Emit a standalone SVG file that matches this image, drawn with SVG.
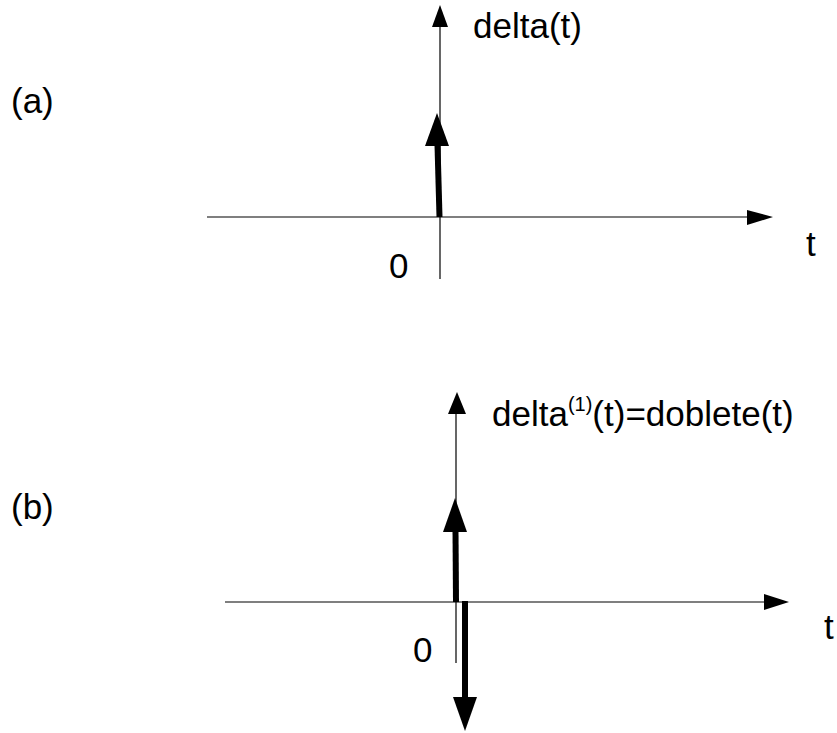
<svg xmlns="http://www.w3.org/2000/svg" width="837" height="733" viewBox="0 0 837 733">
<style>
text{font-family:"Liberation Sans",Arial,sans-serif;font-size:35px;fill:#000}
.thin{stroke:#000;stroke-width:1.2;fill:none}
.thick{stroke:#000;stroke-width:6;fill:none}
.head{fill:#000}
</style>
<rect width="837" height="733" fill="#fff"/>
<g id="connectors">
<g id="axes-a">
<line class="thin" x1="440" y1="24" x2="440" y2="279"/>
<polygon class="head" points="440,5 432,27 448,27"/>
<line class="thin" x1="207" y1="217" x2="750" y2="217"/>
<polygon class="head" points="773,217 747,210 747,225"/>
</g>
<g id="impulse-a">
<line class="thick" x1="439.5" y1="217" x2="437.5" y2="145"/>
<polygon class="head" points="437,113 425,146 449,146"/>
</g>
<g id="axes-b">
<line class="thin" x1="456" y1="410" x2="456" y2="663"/>
<polygon class="head" points="457,392 448,414 466,414"/>
<line class="thin" x1="225" y1="602" x2="767" y2="602"/>
<polygon class="head" points="789,602 764,594 764,610"/>
</g>
<g id="doublet-b">
<line class="thick" x1="456" y1="602" x2="455.5" y2="530"/>
<polygon class="head" points="455,498 443,532 467,532"/>
<line class="thick" x1="465" y1="601" x2="465" y2="700"/>
<polygon class="head" points="465,731 453,697 477,697"/>
</g>
</g>
<g id="labels">
<text id="label-a" x="11" y="113">(a)</text>
<text id="label-b" x="11" y="519">(b)</text>
<text id="delta-a" x="473" y="38">delta(t)</text>
<text id="t-a" x="806" y="256">t</text>
<text id="zero-a" x="389" y="278">0</text>
<text id="delta-b" x="492" y="426">delta<tspan font-size="20" dy="-15">(1)</tspan><tspan dy="15">(t)=doblete(t)</tspan></text>
<text id="t-b" x="824" y="639">t</text>
<text id="zero-b" x="413" y="662">0</text>
</g>
</svg>
